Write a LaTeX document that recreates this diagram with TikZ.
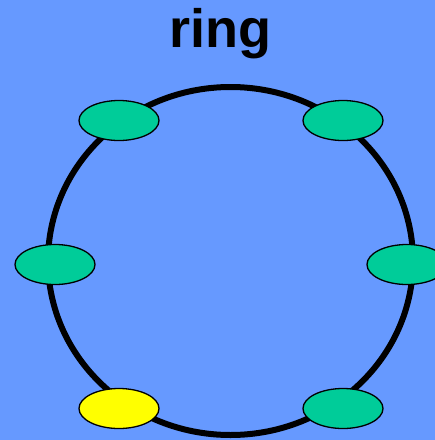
\documentclass[tikz,border=0pt]{standalone}
\usepackage{fontspec}
\setmainfont{Liberation Sans}
\usetikzlibrary{shapes.geometric}
\definecolor{ringblue}{RGB}{102,153,255}
\definecolor{stationgreen}{RGB}{0,204,153}
\definecolor{stationyellow}{RGB}{255,255,0}

\begin{document}
\begin{tikzpicture}[x=1pt,y=-1pt,
    station/.style={ellipse,draw=black,line width=1.3pt,fill=stationgreen,
      minimum width=80pt,minimum height=40pt,inner sep=0pt}]
    % Fondo
    \fill[ringblue] (0,0) rectangle (435,440);
    \useasboundingbox (0,0) rectangle (435,440);
    \clip (0,0) rectangle (435,440);
    % Titulo
    \node[anchor=base] (title) at (220,47.7)
      {\bfseries\fontsize{54}{60}\selectfont ring};
    % Anillo
    \draw[line width=6pt] (230.5,261) ellipse [x radius=182.5,y radius=174];
    % Estaciones
    \node[station] (s1) at (119,120.5) {};
    \node[station] (s2) at (343,120.5) {};
    \node[station] (s3) at (55,264.5) {};
    \node[station] (s4) at (407,264.5) {};
    \node[station,fill=stationyellow] (s5) at (119,408.5) {};
    \node[station] (s6) at (343,408.5) {};
  \end{tikzpicture}
\end{document}
